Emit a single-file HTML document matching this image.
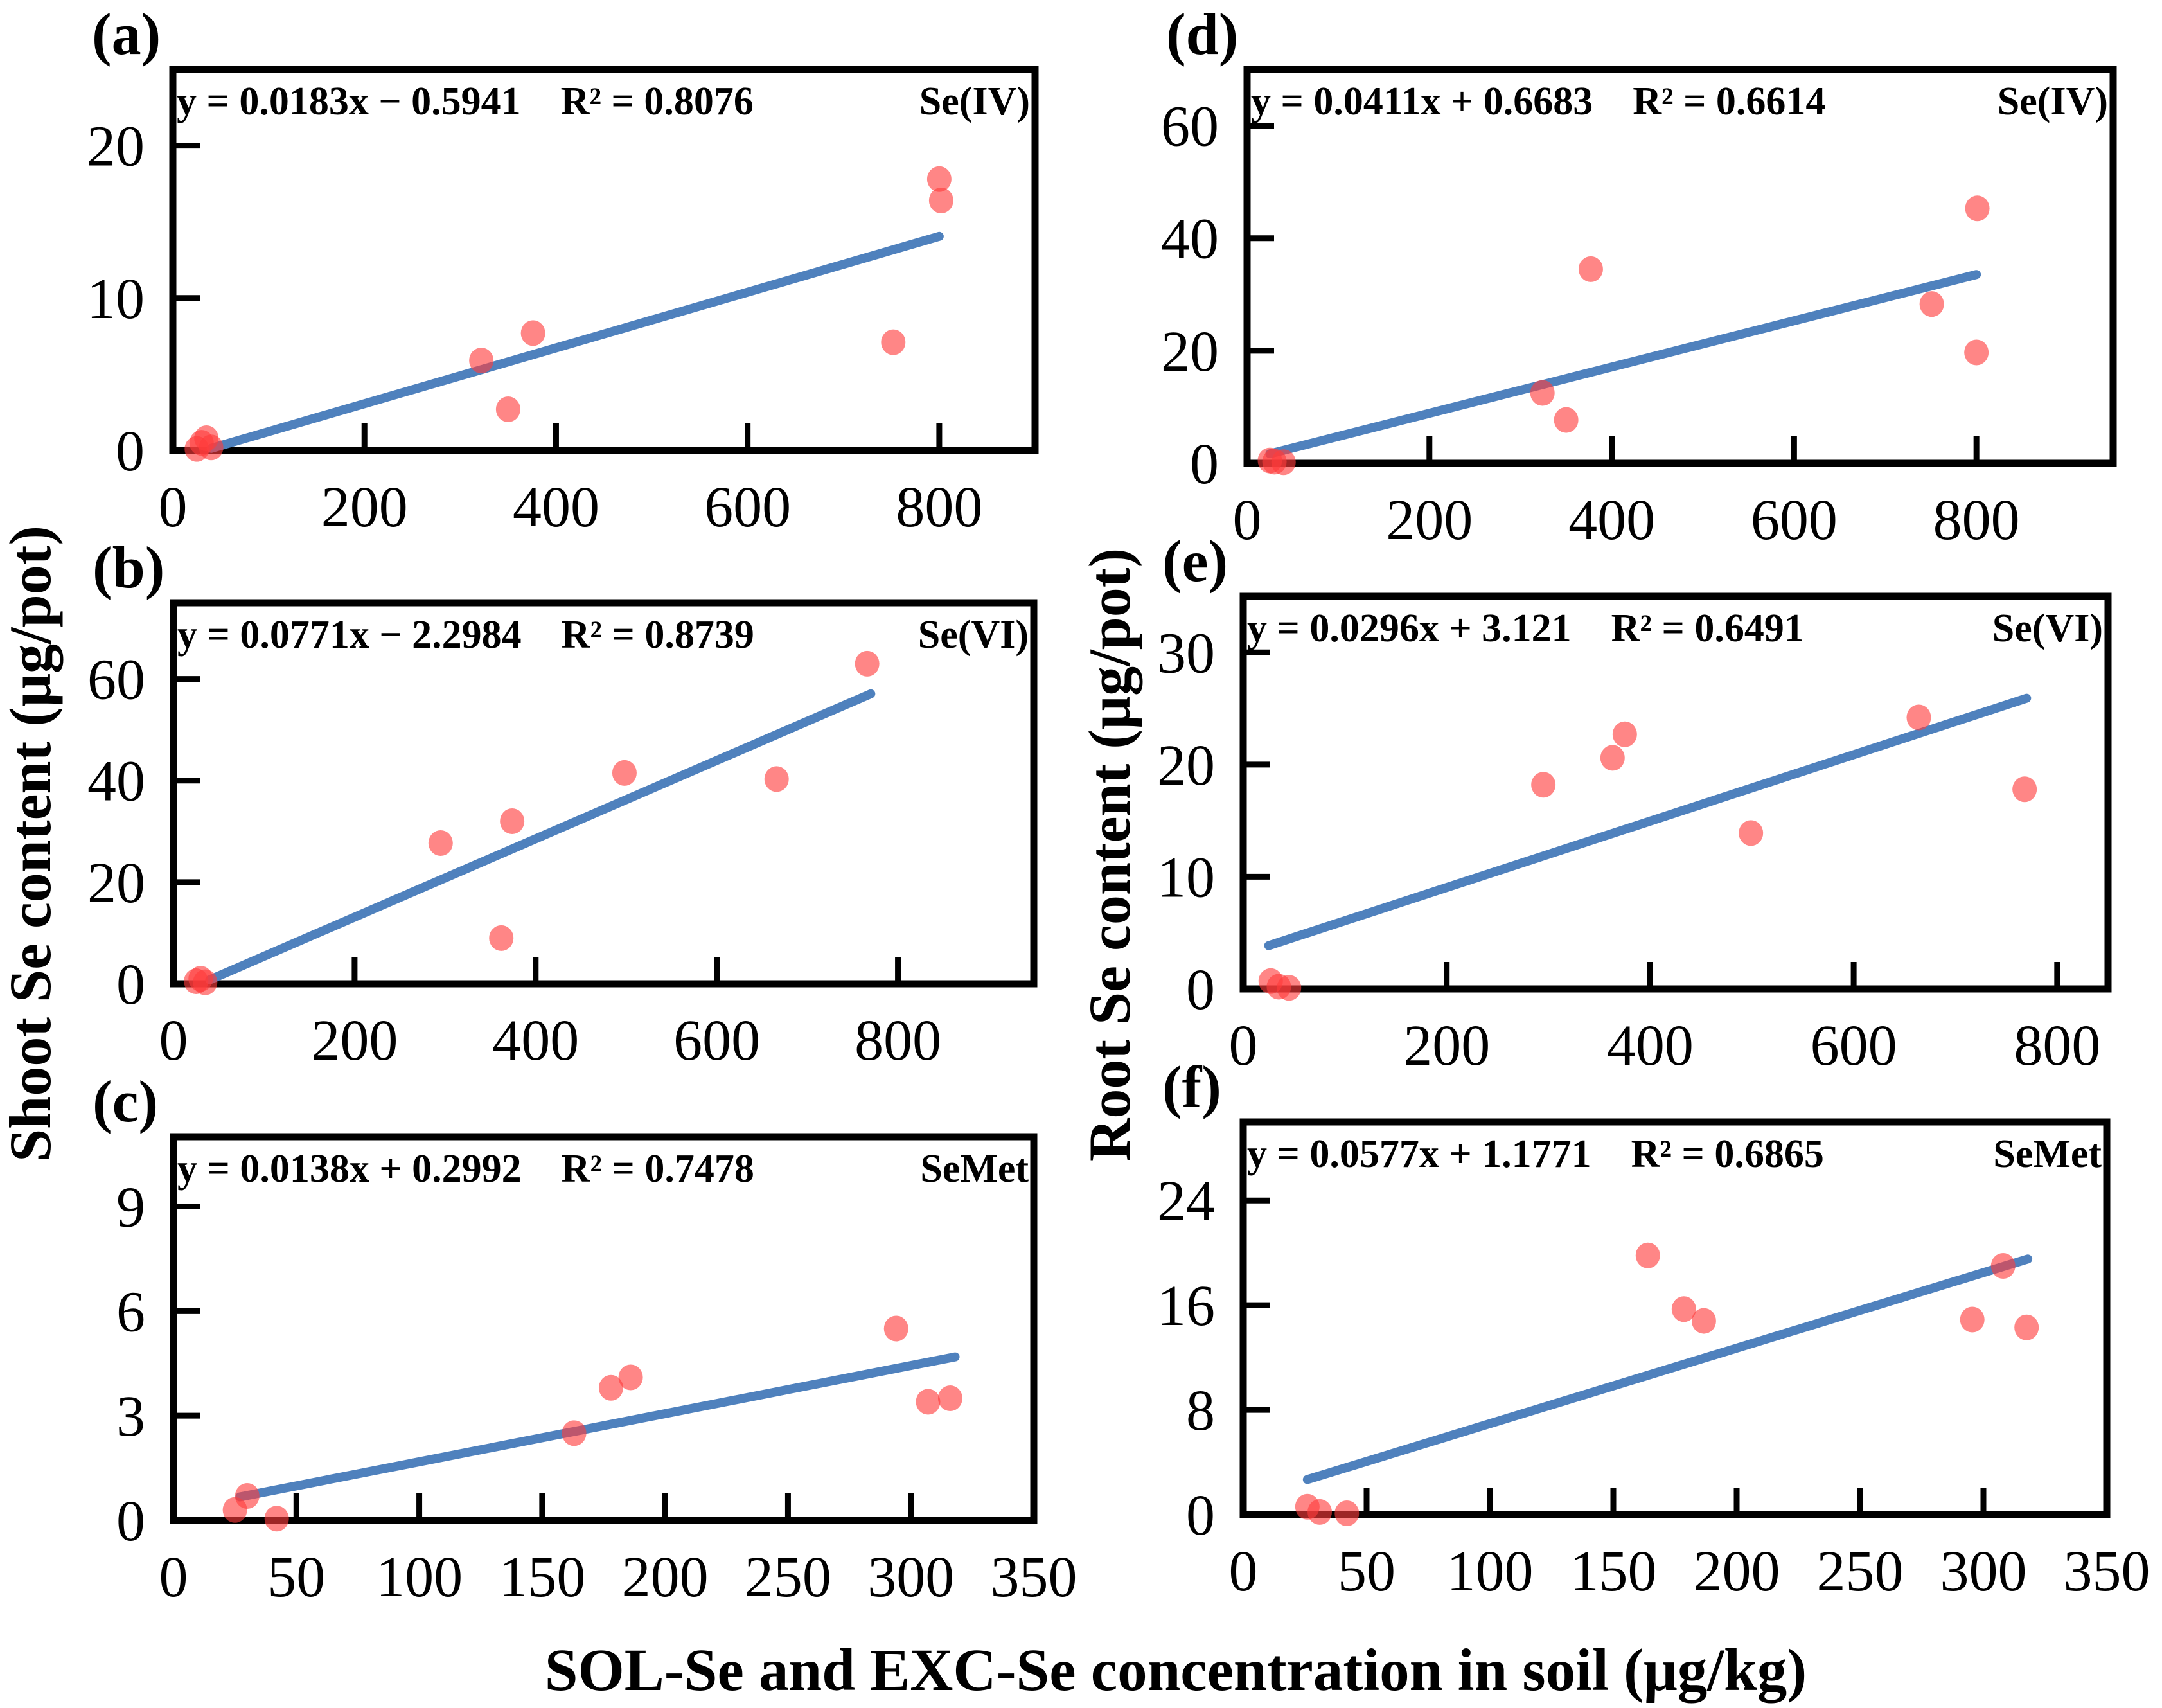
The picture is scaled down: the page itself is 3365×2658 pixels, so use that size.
<!DOCTYPE html>
<html><head><meta charset="utf-8"><style>
html,body{margin:0;padding:0;background:#fff}
svg{display:block}
text{font-family:"Liberation Serif",serif;white-space:pre}
</style></head><body>
<svg id="c" width="3365" height="2658" xmlns="http://www.w3.org/2000/svg"></svg>
<script>
const NS='http://www.w3.org/2000/svg';
const svg=document.getElementById('c');
// ---- data ----
const aX=[25,30,35,40,322,350,376,752,800,802];
const aY=[0.1,0.5,0.8,0.2,5.9,2.7,7.7,7.1,17.8,16.4];
const bX=[25,30,35,295,374,362,498,666,766];
const bY=[0.5,1,0.3,27.7,32,9,41.5,40.3,63];
const cX=[25,30,42,163,178,186,294,307,316];
const cY=[0.3,0.7,0.05,2.5,3.8,4.1,5.5,3.4,3.5];
const dX=[25,30,40,324,350,377,751,801,800];
const dY=[0.5,0.3,0.2,12.5,7.7,34.5,28.3,45.3,19.7];
const eX=[27,35,45,295,363,375,499,664,768];
const eY=[0.7,0.2,0.1,18.2,20.6,22.7,13.9,24.2,17.8];
const fX=[26,31,42,164,178.6,186.7,295.5,308,317.5];
const fY=[0.6,0.2,0.1,19.8,15.7,14.8,14.9,19.0,14.3];
const slopes=[0.0183,0.0771,0.0138,0.0411,0.0296,0.0577];
const intercepts=[-0.5941,-2.2984,0.2992,0.6683,3.121,1.1771];
const lineX0=[40,40,27,25,25,26];
const lineX1=[800,770,318,800,770,318];
const xTicksA=[0,200,400,600,800];
const xTicksB=[0,200,400,600,800];
const xTicksC=[0,50,100,150,200,250,300,350];
const yTicksA=[0,10,20];
const yTicksB=[0,20,40,60];
const yTicksC=[0,3,6,9];
const yTicksD=[0,20,40,60];
const yTicksE=[0,10,20,30];
const yTicksF=[0,8,16,24];
const eqs=['y = 0.0183x − 0.5941    R² = 0.8076','y = 0.0771x − 2.2984    R² = 0.8739','y = 0.0138x + 0.2992    R² = 0.7478',
'y = 0.0411x + 0.6683    R² = 0.6614','y = 0.0296x + 3.121    R² = 0.6491','y = 0.0577x + 1.1771    R² = 0.6865'];
const types=['Se(IV)','Se(VI)','SeMet','Se(IV)','Se(VI)','SeMet'];
const labels=['(a)','(b)','(c)','(d)','(e)','(f)'];
// layout
const panels=[
 {id:'a',L:269,R:1611,T:108,B:701,xmax:900,ymax:25,xs:aX,ys:aY,xt:xTicksA,yt:yTicksA},
 {id:'b',L:270,R:1609,T:938,B:1531,xmax:950,ymax:75,xs:bX,ys:bY,xt:xTicksB,yt:yTicksB},
 {id:'c',L:270,R:1609,T:1769,B:2366,xmax:350,ymax:11,xs:cX,ys:cY,xt:xTicksC,yt:yTicksC},
 {id:'d',L:1941,R:3289,T:108,B:721,xmax:950,ymax:70,xs:dX,ys:dY,xt:xTicksB,yt:yTicksD},
 {id:'e',L:1935,R:3281,T:928,B:1539,xmax:850,ymax:35,xs:eX,ys:eY,xt:xTicksB,yt:yTicksE},
 {id:'f',L:1935,R:3279,T:1746,B:2357,xmax:350,ymax:30,xs:fX,ys:fY,xt:xTicksC,yt:yTicksF}
];
function el(tag,attrs,parent,txt){const e=document.createElementNS(NS,tag);for(const k in attrs)e.setAttribute(k,attrs[k]);if(txt!==undefined)e.textContent=txt;(parent||svg).appendChild(e);return e;}
panels.forEach((p,i)=>{
 const g=el('g',{});
 
 
 const sx=v=>p.L+(v/p.xmax)*(p.R-p.L);
 const sy=v=>p.B-(v/p.ymax)*(p.B-p.T);
 const box=el('rect',{x:p.L,y:p.T,width:p.R-p.L,height:p.B-p.T,fill:'none',stroke:'#000','stroke-width':11},g);
 
 
 p.yt.forEach(t=>{
  const tk=el('line',{x1:p.L,x2:p.L+42,y1:sy(t),y2:sy(t),stroke:'#000','stroke-width':9},g);
  
  
  const tl=el('text',{x:p.L-44,y:sy(t)+31,'text-anchor':'end','font-size':90},g,String(t));
  
  
 });
 p.xt.forEach(t=>{
  if(t>0&&sx(t)<p.R-10){
   const tk=el('line',{x1:sx(t),x2:sx(t),y1:p.B,y2:p.B-42,stroke:'#000','stroke-width':9},g);
   
   
  }
  const tl=el('text',{x:sx(t),y:p.B+118,'text-anchor':'middle','font-size':90},g,String(t));
  
  
 });
 const x0=lineX0[i],x1=lineX1[i];
 const ln=el('line',{x1:sx(x0),y1:sy(slopes[i]*x0+intercepts[i]),x2:sx(x1),y2:sy(slopes[i]*x1+intercepts[i]),stroke:'#4f81bd','stroke-width':14,'stroke-linecap':'round'},g);
 
 
 p.xs.forEach((x,j)=>{
  const pt=el('ellipse',{cx:sx(x),cy:sy(p.ys[j]),rx:19,ry:20,fill:'rgba(255,60,60,0.62)'},g);
  
  
 });
 const eq=el('text',{x:p.L+6,y:p.T+70,'font-size':62,'font-weight':'bold'},g,eqs[i]);
 
 
 const ty=el('text',{x:p.R-8,y:p.T+70,'font-size':62,'font-weight':'bold','text-anchor':'end'},g,types[i]);
 
 
 const lb=el('text',{x:p.L-126,y:p.T-24,'font-size':92,'font-weight':'bold'},g,labels[i]);
 
 
});
const t1=el('text',{x:0,y:0,'font-size':92,'font-weight':'bold','text-anchor':'middle',transform:'translate(78,1313) rotate(-90)'},svg,'Shoot Se content (μg/pot)');


const t2=el('text',{x:0,y:0,'font-size':92,'font-weight':'bold','text-anchor':'middle',transform:'translate(1758,1330) rotate(-90)'},svg,'Root Se content (μg/pot)');


const t3=el('text',{x:1830,y:2630,'font-size':93,'font-weight':'bold','text-anchor':'middle'},svg,'SOL-Se and EXC-Se concentration in soil (μg/kg)');


</script>
</body></html>
